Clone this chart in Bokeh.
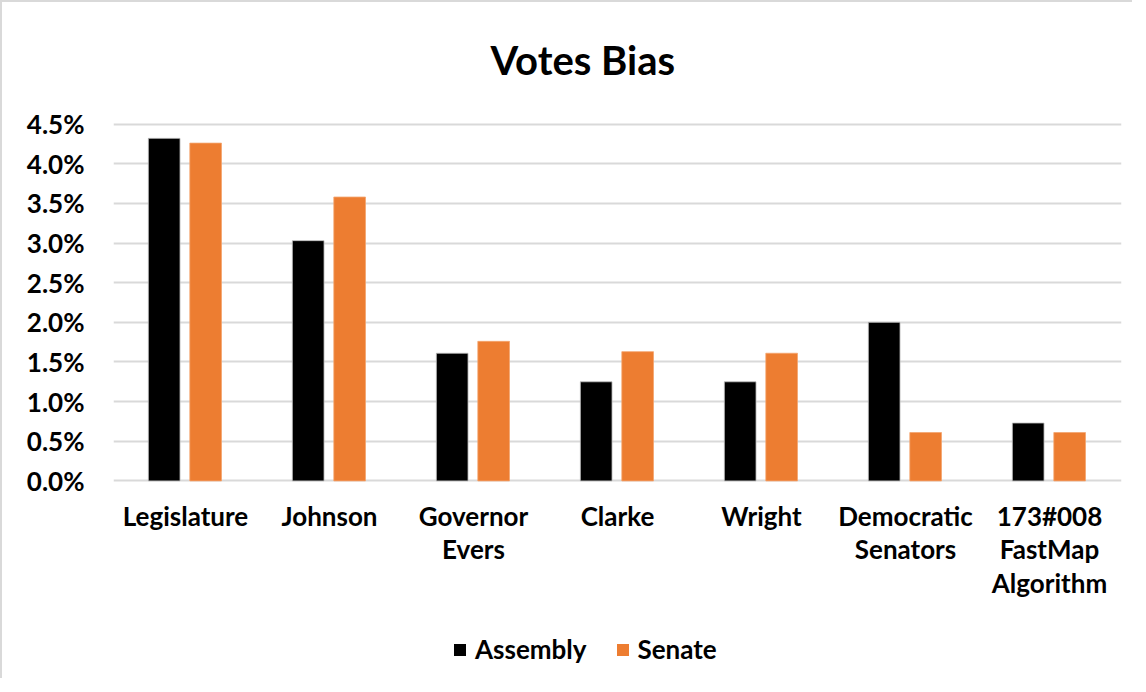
from bokeh.plotting import figure
from bokeh.layouts import column
from bokeh.models import (ColumnDataSource, FactorRange, Legend, LegendItem,
                          NumeralTickFormatter, FixedTicker, Label)
from bokeh.transform import dodge
from bokeh.embed import file_html
from bokeh.resources import INLINE

title_text = "Votes Bias"
categories = ["Legislature", "Johnson", "Governor\nEvers", "Clarke", "Wright",
              "Democratic\nSenators", "173#008\nFastMap\nAlgorithm"]
assembly = [0.0432, 0.0303, 0.0161, 0.0125, 0.0125, 0.0200, 0.0073]
senate = [0.0426, 0.0358, 0.0176, 0.0163, 0.0161, 0.0061, 0.0061]
y_ticks = [0.0, 0.005, 0.010, 0.015, 0.020, 0.025, 0.030, 0.035, 0.040, 0.045]
series_names = ["Assembly", "Senate"]
series_colors = ["#000000", "#ed7d31"]
edge_colors = ["#bfbfbf", "#f4a46f"]

FONT = "Lato"
GRID = "#d9d9d9"

source = ColumnDataSource(dict(cat=categories, assembly=assembly, senate=senate))
x_range = FactorRange(*categories, range_padding=0)

# title strip (its frame is aligned with the chart frame by the column layout)
ts = figure(x_range=(113, 1121), y_range=(0, 100), width=1130, height=100,
            output_backend="svg", toolbar_location=None,
            x_axis_location=None, y_axis_location=None,
            min_border_left=0, min_border_right=0, min_border_top=0,
            min_border_bottom=0)
ts.outline_line_color = None
ts.grid.grid_line_color = None
ts.add_layout(Label(x=490, y=43, text=title_text, text_align="left",
                    text_baseline="alphabetic", text_font=FONT,
                    text_font_size="40px", text_font_style="bold",
                    text_color="#000000"))

p = figure(x_range=x_range, y_range=(-0.0002, 0.0452),
           width=1130, height=530, output_backend="svg", toolbar_location=None,
           min_border_left=111, min_border_right=11, min_border_top=20,
           min_border_bottom=150)

offsets = [-0.148, 0.14]
fields = ["assembly", "senate"]
for off, fld, col, edge in zip(offsets, fields, series_colors, edge_colors):
    p.vbar(x=dodge("cat", off, range=x_range), top=fld, bottom=0, width=0.22,
           source=source, fill_color=col, line_color=edge, line_width=0.8)

p.outline_line_color = None
p.xgrid.grid_line_color = None
p.ygrid.grid_line_color = GRID
p.ygrid.grid_line_width = 2
p.yaxis.ticker = FixedTicker(ticks=y_ticks)
p.yaxis.formatter = NumeralTickFormatter(format="0.0%")

for ax in (p.xaxis[0], p.yaxis[0]):
    ax.axis_line_color = None
    ax.major_tick_line_color = None
    ax.minor_tick_line_color = None
    ax.major_tick_out = 0
    ax.major_tick_in = 0
    ax.major_label_text_font = FONT
    ax.major_label_text_font_style = "bold"
    ax.major_label_text_font_size = "26px"
    ax.major_label_text_color = "#000000"

p.yaxis.major_label_standoff = 29
p.xaxis.major_label_standoff = 17
p.xaxis.major_label_text_line_height = 1.05

# legend strip below the chart
lg = figure(x_range=x_range, y_range=(1, 2), width=1130, height=46,
            output_backend="svg", toolbar_location=None,
            x_axis_location=None, y_axis_location=None,
            min_border_left=0, min_border_right=0, min_border_top=0,
            min_border_bottom=0)
lg.outline_line_color = None
lg.grid.grid_line_color = None
items = []
for off, fld, col, edge, name in zip(offsets, fields, series_colors, edge_colors, series_names):
    r = lg.vbar(x=dodge("cat", off, range=x_range), top=fld, bottom=0, width=0.22,
                source=source, fill_color=col, line_color=None)
    items.append(LegendItem(label=name, renderers=[r]))

legend = Legend(items=items, orientation="horizontal", location=(339, 13),
                label_text_font=FONT, label_text_font_style="bold",
                label_text_font_size="26px", label_text_color="#000000",
                glyph_width=15, glyph_height=15, spacing=28, label_standoff=8,
                padding=0, margin=0,
                border_line_color=None, background_fill_alpha=0)
lg.add_layout(legend)

layout = column(ts, p, lg, spacing=0)
layout.styles = {"border-top": "2px solid #d9d9d9", "border-left": "2px solid #d9d9d9"}

open("out.html", "w").write(file_html(layout, INLINE))
